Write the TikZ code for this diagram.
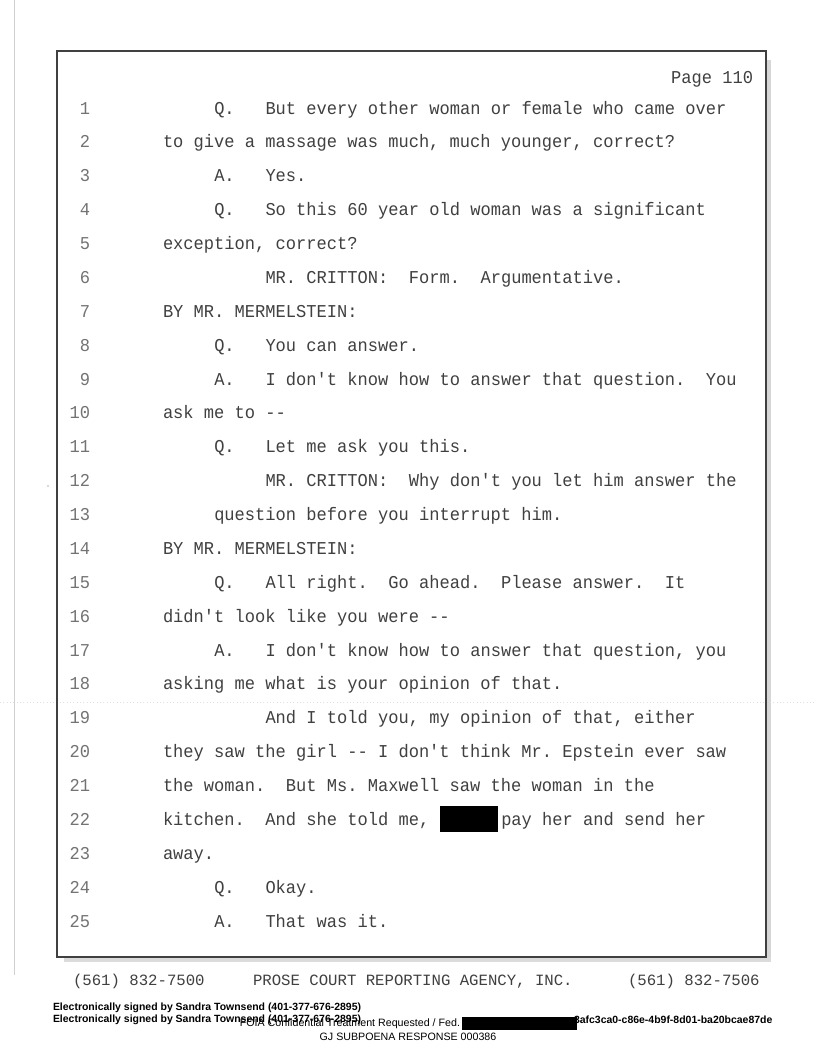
\documentclass[tikz,border=0pt]{standalone}
\usepackage{fontspec}
\newfontfamily\monof{Liberation Mono}
\newfontfamily\sansf{Liberation Sans}
\newcommand\cx[1]{163+#1*10.25}
\newcommand\ry[1]{114+(#1-1)*33.875}
\begin{document}
\begin{tikzpicture}[x=0.75pt,y=-0.75pt,
  txt/.style={inner sep=0pt, outer sep=0pt, anchor=base west, text=black!75, yscale=1.06,
    font=\monof\fontsize{12.8}{14}\selectfont\frenchspacing},
  num/.style={txt, anchor=base east, text=black!55},
  foot/.style={inner sep=0pt, outer sep=0pt, anchor=base west, text=black!75,
    font=\monof\fontsize{11.75}{13}\selectfont\frenchspacing},
  sig/.style={inner sep=0pt, outer sep=0pt, anchor=base west, text=black,
    font=\sansf\bfseries\fontsize{7.85}{9}\selectfont},
  reg/.style={inner sep=0pt, outer sep=0pt, anchor=base west, text=black,
    font=\sansf\fontsize{8}{9}\selectfont}]
\useasboundingbox (0,0) rectangle (816,1056);
\fill[white] (0,0) rectangle (816,1056);
% scan artefacts
\draw[black!18, line width=0.6] (14,0) -- (14,975);
\draw[black!12, dotted, line width=0.5] (0,702) -- (816,702);
\fill[black!30] (48,486) circle (0.8);
% frame and shadow
\fill[black!16] (766,60) rectangle (771,962);
\fill[black!14] (64,957) rectangle (771,962);
\draw[black!75, line width=1.1] (57,51) rectangle (766,957);
% page number
\node[txt, anchor=base east] (page) at (753,84) {Page 110};
% line numbers
\foreach \i in {1,...,25}
  \node[num] (n\i) at (90,{114+(\i-1)*33.875}) {\i};
% transcript
\node[txt] (q1) at ({\cx{5}},{\ry{1}}) {Q.};
\node[txt] (t1) at ({\cx{10}},{\ry{1}}) {But every other woman or female who came over};
\node[txt] (t2) at ({\cx{0}},{\ry{2}}) {to give a massage was much, much younger, correct?};
\node[txt] (a3) at ({\cx{5}},{\ry{3}}) {A.};
\node[txt] (t3) at ({\cx{10}},{\ry{3}}) {Yes.};
\node[txt] (q4) at ({\cx{5}},{\ry{4}}) {Q.};
\node[txt] (t4) at ({\cx{10}},{\ry{4}}) {So this 60 year old woman was a significant};
\node[txt] (t5) at ({\cx{0}},{\ry{5}}) {exception, correct?};
\node[txt] (t6) at ({\cx{10}},{\ry{6}}) {MR. CRITTON:~~Form.~~Argumentative.};
\node[txt] (t7) at ({\cx{0}},{\ry{7}}) {BY MR. MERMELSTEIN:};
\node[txt] (q8) at ({\cx{5}},{\ry{8}}) {Q.};
\node[txt] (t8) at ({\cx{10}},{\ry{8}}) {You can answer.};
\node[txt] (a9) at ({\cx{5}},{\ry{9}}) {A.};
\node[txt] (t9) at ({\cx{10}},{\ry{9}}) {I don't know how to answer that question.~~You};
\node[txt] (t10) at ({\cx{0}},{\ry{10}}) {ask me to --};
\node[txt] (q11) at ({\cx{5}},{\ry{11}}) {Q.};
\node[txt] (t11) at ({\cx{10}},{\ry{11}}) {Let me ask you this.};
\node[txt] (t12) at ({\cx{10}},{\ry{12}}) {MR. CRITTON:~~Why don't you let him answer the};
\node[txt] (t13) at ({\cx{5}},{\ry{13}}) {question before you interrupt him.};
\node[txt] (t14) at ({\cx{0}},{\ry{14}}) {BY MR. MERMELSTEIN:};
\node[txt] (q15) at ({\cx{5}},{\ry{15}}) {Q.};
\node[txt] (t15) at ({\cx{10}},{\ry{15}}) {All right.~~Go ahead.~~Please answer.~~It};
\node[txt] (t16) at ({\cx{0}},{\ry{16}}) {didn't look like you were --};
\node[txt] (a17) at ({\cx{5}},{\ry{17}}) {A.};
\node[txt] (t17) at ({\cx{10}},{\ry{17}}) {I don't know how to answer that question, you};
\node[txt] (t18) at ({\cx{0}},{\ry{18}}) {asking me what is your opinion of that.};
\node[txt] (t19) at ({\cx{10}},{\ry{19}}) {And I told you, my opinion of that, either};
\node[txt] (t20) at ({\cx{0}},{\ry{20}}) {they saw the girl -- I don't think Mr. Epstein ever saw};
\node[txt] (t21) at ({\cx{0}},{\ry{21}}) {the woman.~~But Ms. Maxwell saw the woman in the};
\node[txt] (t22) at ({\cx{0}},{\ry{22}}) {kitchen.~~And she told me,};
\fill[black] (440,806) rectangle (498,832);
\node[txt] (t22b) at ({\cx{33}},{\ry{22}}) {pay her and send her};
\node[txt] (t23) at ({\cx{0}},{\ry{23}}) {away.};
\node[txt] (q24) at ({\cx{5}},{\ry{24}}) {Q.};
\node[txt] (t24) at ({\cx{10}},{\ry{24}}) {Okay.};
\node[txt] (a25) at ({\cx{5}},{\ry{25}}) {A.};
\node[txt] (t25) at ({\cx{10}},{\ry{25}}) {That was it.};
% footer
\node[foot] (f1) at (73,985) {(561) 832-7500};
\node[foot] (f2) at (253,985) {PROSE COURT REPORTING AGENCY, INC.};
\node[foot] (f3) at (628,985) {(561) 832-7506};
% signature lines
\node[sig] (s1) at (53,1010) {Electronically signed by Sandra Townsend (401-377-676-2895)};
\node[sig] (s2) at (53,1022) {Electronically signed by Sandra Townsend (401-377-676-2895)};
\node[reg, anchor=base east] (foia) at (460,1026) {FOIA Confidential Treatment Requested / Fed.};
\node[sig] (hash) at (574,1023) {3afc3ca0-c86e-4b9f-8d01-ba20bcae87de};
\fill[black] (462,1017) rectangle (577,1030);
\node[reg, anchor=base] (gj) at (408,1040) {GJ SUBPOENA RESPONSE 000386};
\end{tikzpicture}
\end{document}
